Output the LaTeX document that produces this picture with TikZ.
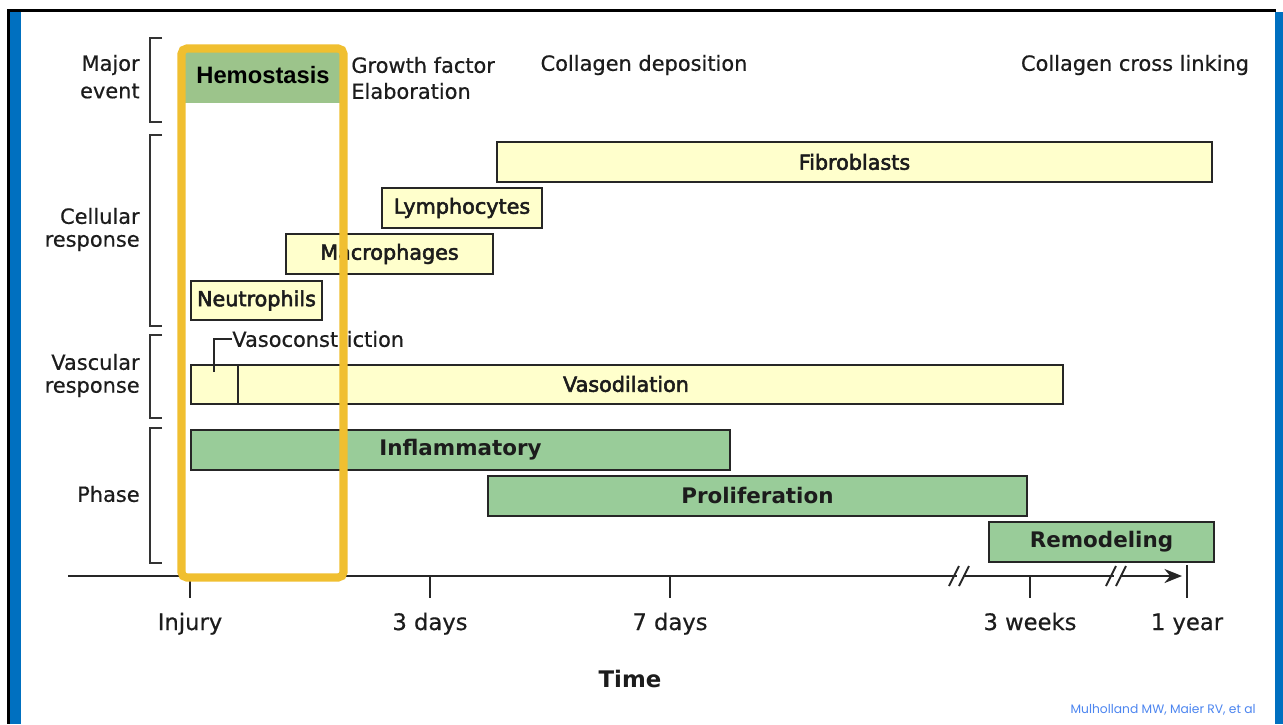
\documentclass[tikz,border=0pt]{standalone}
\usepackage{fontspec}
\setmainfont{DejaVu Sans}
\newfontfamily\hemofont{Liberation Sans}
\newfontfamily\citefont{Poppins}
\newfontfamily\semibfont[FakeBold=2.6]{DejaVu Sans}
\newfontfamily\regfont[FakeBold=0.5]{DejaVu Sans}
\usetikzlibrary{arrows.meta}
\definecolor{ylfill}{HTML}{FFFFCC}
\definecolor{gnfill}{HTML}{99CC99}
\definecolor{hemogreen}{HTML}{9CC48B}
\definecolor{frameyel}{HTML}{F0BF30}
\definecolor{slideblue}{HTML}{0070C0}
\definecolor{txt}{HTML}{1C1C1C}
\definecolor{citeblue}{HTML}{4D86F0}
\tikzset{
  bx/.style={draw=black!85, line width=1.1pt, inner sep=0pt, anchor=north west},
  ybox/.style={bx, fill=ylfill, font=\semibfont\fontsize{11.8}{13}\selectfont, text=txt},
  gbox/.style={bx, fill=gnfill, font=\bfseries\fontsize{12.2}{14}\selectfont, text=txt},
  brk/.style={line width=1.2pt, draw=black!80},
  hdr/.style={font=\regfont\fontsize{11.9}{13}\selectfont, text=txt, inner sep=0pt},
  side/.style={font=\regfont\fontsize{11.9}{13}\selectfont, text=txt, inner sep=0pt, anchor=east},
  tick/.style={line width=1.1pt, draw=black!85},
  ticklbl/.style={font=\regfont\fontsize{12.9}{14}\selectfont, text=txt, inner sep=0pt, anchor=base},
}
\newcommand\tlbar[7]{%
  \node[#6, minimum width={(#4-#2)*0.02cm}, minimum height={(#5-#3)*0.02cm}] (#1) at (#2,#3) {#7};}
\begin{document}
\begin{tikzpicture}[x=0.02cm, y=-0.02cm]
\useasboundingbox (0,0) rectangle (1283,724);
% slide frame
\fill[white] (0,0) rectangle (1283,724);
\fill[black] (7,9) rectangle (1276,12);
\fill[black] (7,9) rectangle (10,724);
\fill[slideblue] (10,12) rectangle (21,724);
\fill[slideblue] (1275,12) rectangle (1283,724);

% hemostasis box background
\fill[hemogreen] (182,48) rectangle (344,103);
\node[font=\hemofont\bfseries\fontsize{13.5}{15}\selectfont, inner sep=0pt] (hemo) at (263,75) {Hemostasis};

% brackets
\draw[brk] (162,38) -- (150,38) -- (150,122) -- (162,122);
\draw[brk] (162,135) -- (150,135) -- (150,326) -- (162,326);
\draw[brk] (162,335) -- (150,335) -- (150,418) -- (162,418);
\draw[brk] (162,428) -- (150,428) -- (150,563) -- (162,563);

% side labels
\node[side] (major) at (140,65) {Major};
\node[side] (event) at (140,91) {event};
\node[side] (cell) at (140,216) {Cellular};
\node[side] (cresp) at (140,243) {response};
\node[side] (vasc) at (140,362) {Vascular};
\node[side] (vresp) at (140,389) {response};
\node[side] (phase) at (140,494) {Phase};

% header texts
\node[hdr, anchor=west] (gf) at (351,65) {Growth factor};
\node[hdr, anchor=west] (elab) at (351,91) {Elaboration};
\node[hdr] (cdep) at (644,65) {Collagen deposition};
\node[hdr] (ccl) at (1135,65) {Collagen cross linking};

% cellular bars
\tlbar{fib}{496}{141}{1211}{181}{ybox}{Fibroblasts}
\tlbar{lym}{381}{187}{541}{227}{ybox}{Lymphocytes}
\tlbar{mac}{285}{233}{492}{273}{ybox}{Macrophages}
\tlbar{neu}{190}{280}{321}{319}{ybox}{Neutrophils}

% vascular
\tlbar{vd}{190}{364}{1062}{403}{ybox}{}
\node[font=\semibfont\fontsize{11.8}{13}\selectfont, text=txt, inner sep=0pt] (vdl) at (626,384) {Vasodilation};
\draw[line width=1.1pt, black!85] (238,364) -- (238,403);
\coordinate (vcm) at (214,372);
\node[hdr, anchor=west] (vc) at (232,339) {Vasoconstriction};
\draw[line width=1.1pt, black!85] (vcm) |- (vc.west);

% phases
\tlbar{inf}{190}{429}{729}{469}{gbox}{Inflammatory}
\tlbar{pro}{487}{475}{1026}{515}{gbox}{Proliferation}
\tlbar{rem}{988}{521}{1213}{561}{gbox}{Remodeling}

% time axis
\coordinate (ax0) at (68,576);
\coordinate (b1a) at (957,576);
\coordinate (b1b) at (963,576);
\coordinate (b2a) at (1114,576);
\coordinate (b2b) at (1120,576);
\coordinate (axe) at (1182,576);
\draw[tick] (ax0) -- (b1a);
\draw[tick] (b1b) -- (b2a);
\draw[tick, -{Stealth[length=10pt,width=8pt]}] (b2b) -- (axe);
\foreach \x in {954,964,1111,1121} \draw[tick] (\x-5,586) -- (\x+5,566);
\node[ticklbl] (t0) at (190,630) {Injury};
\node[ticklbl] (t1) at (430,630) {3 days};
\node[ticklbl] (t2) at (670,630) {7 days};
\node[ticklbl] (t3) at (1030,630) {3 weeks};
\node[ticklbl] (t4) at (1187,630) {1 year};
\foreach \x in {190,430,670,1030} \draw[tick] (\x,576) -- (\x,598);
\draw[tick] (1187,565) -- (1187,598);
\node[font=\bfseries\fontsize{13}{15}\selectfont, text=txt, inner sep=0pt] (time) at (630,679) {Time};

% citation
\node[font=\citefont\fontsize{7}{8}\selectfont, text=citeblue, inner sep=0pt, anchor=east] (cite) at (1256,710) {Mulholland MW, Maier RV, et al};

% highlight frame on top
\draw[frameyel, line width=4.6pt, rounded corners=3pt] (181.5,48.5) rectangle (343.5,577.5);
\end{tikzpicture}
\end{document}
